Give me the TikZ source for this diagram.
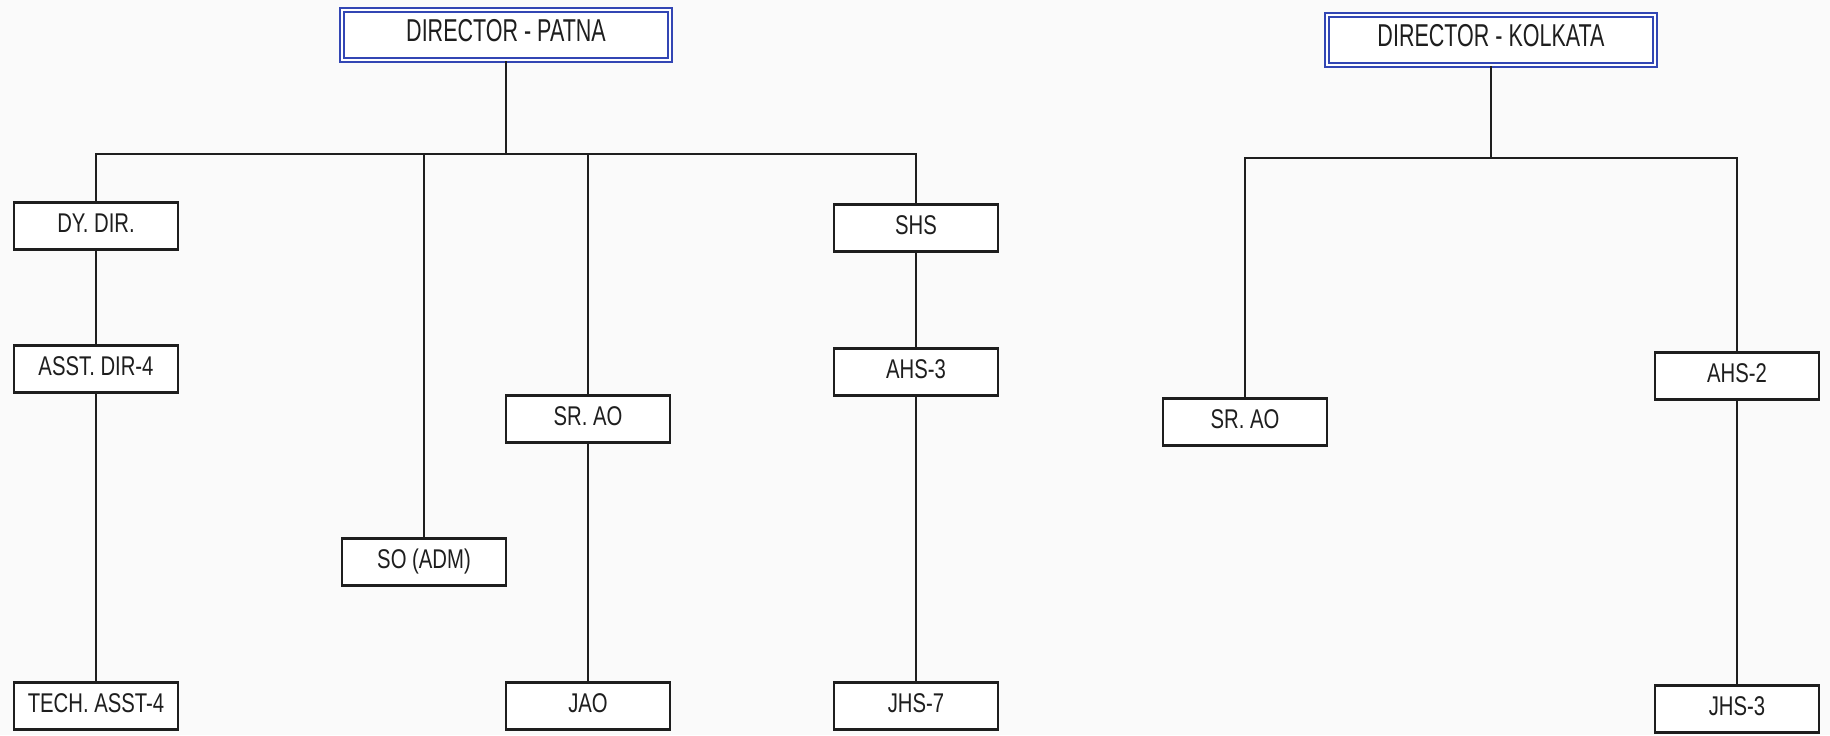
\documentclass[tikz,border=0pt]{standalone}
\usepackage{fontspec}
\setmainfont{Liberation Sans}[FakeStretch=0.75]
\newfontfamily\headfont{Liberation Sans}[FakeStretch=0.68]
\usepackage{tikz}
\definecolor{headblue}{RGB}{50,70,180}
\definecolor{inktext}{RGB}{30,30,30}
\definecolor{paper}{RGB}{250,250,250}

\begin{document}
\begin{tikzpicture}[x=0.02cm, y=-0.02cm,
  postbox/.style={draw=inktext, line width=1.25pt, fill=white, inner sep=0pt,
    minimum width=3.28cm, minimum height=0.94cm, text=inktext,
    text height=0.72em, text depth=0pt, font=\fontsize{15.4}{17}\selectfont},
  headbox/.style={draw=headblue, double=white, line width=1.2pt,
    double distance=1.1pt, fill=white, inner sep=0pt, minimum width=6.56cm,
    minimum height=1.0cm, text=inktext, text height=0.72em, text depth=0pt,
    font=\headfont\fontsize{18}{20}\selectfont},
  conn/.style={draw=inktext, line width=0.95pt}
]
\fill[paper] (0,0) rectangle (1830,735);
\useasboundingbox (0,0) rectangle (1830,735);

% Patna
\node[headbox] (dp) at (506,35) {DIRECTOR - PATNA};
\coordinate (busp) at (506,154);
\node[postbox] (dydir) at (96,226) {DY. DIR.};
\node[postbox] (asstdir) at (96,369) {ASST. DIR-4};
\node[postbox] (techasst) at (96,706) {TECH. ASST-4};
\node[postbox] (soadm) at (424,562) {SO (ADM)};
\node[postbox] (srao) at (588,419) {SR. AO};
\node[postbox] (jao) at (588,706) {JAO};
\node[postbox] (shs) at (916,228) {SHS};
\node[postbox] (ahs3) at (916,372) {AHS-3};
\node[postbox] (jhs7) at (916,706) {JHS-7};
\draw[conn] (dp) -- (busp);
\draw[conn] (dydir.north) |- (busp) -| (shs.north);
\draw[conn] (soadm) -- (soadm |- busp);
\draw[conn] (srao) -- (srao |- busp);
\draw[conn] (dydir) -- (asstdir);
\draw[conn] (asstdir) -- (techasst);
\draw[conn] (srao) -- (jao);
\draw[conn] (shs) -- (ahs3);
\draw[conn] (ahs3) -- (jhs7);

% Kolkata
\node[headbox] (dk) at (1491,40) {DIRECTOR - KOLKATA};
\coordinate (busk) at (1491,158);
\node[postbox] (srao2) at (1245,422) {SR. AO};
\node[postbox] (ahs2) at (1737,376) {AHS-2};
\node[postbox] (jhs3) at (1737,709) {JHS-3};
\draw[conn] (dk) -- (busk);
\draw[conn] (srao2.north) |- (busk) -| (ahs2.north);
\draw[conn] (ahs2) -- (jhs3);
\end{tikzpicture}
\end{document}
